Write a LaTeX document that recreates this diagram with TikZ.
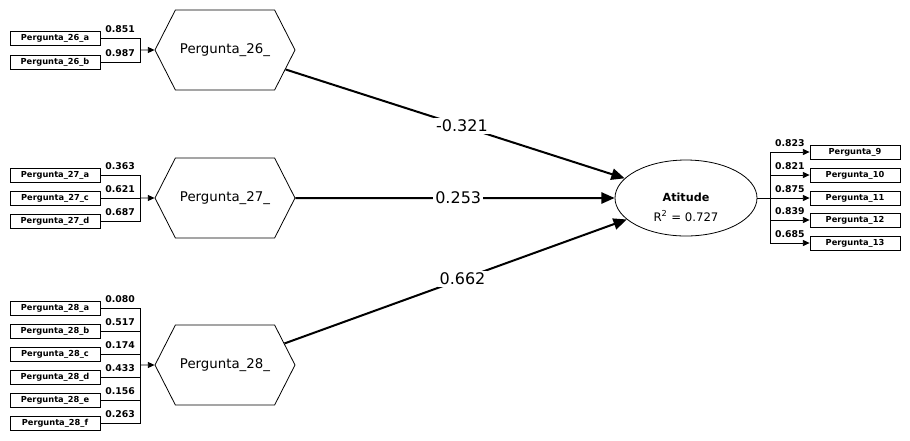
\documentclass[tikz,border=0pt]{standalone}
\usepackage{fontspec}
\setmainfont{DejaVu Sans}
\usetikzlibrary{arrows.meta,shapes.symbols,shapes.geometric}

\begin{document}
\begin{tikzpicture}[x=0.75pt,y=-0.75pt,
  item/.style={draw, line width=0.6pt, minimum width=67.5pt, minimum height=10.5pt, inner sep=0pt, font=\bfseries\fontsize{6.2}{7}\selectfont},
  construct/.style={draw, line width=0.6pt, signal, signal to=east and west, signal pointer angle=126, minimum width=105pt, minimum height=60pt, inner sep=0pt, font=\fontsize{10}{12}\selectfont},
  target/.style={draw, line width=0.6pt, ellipse, minimum width=106.5pt, minimum height=57pt, inner sep=0pt, align=center},
  link/.style={draw, line width=0.6pt},
  load/.style={draw, line width=0.6pt, -{Triangle[length=5pt,width=4.5pt]}},
  weight/.style={above=3pt, inner sep=1pt, font=\bfseries\fontsize{7}{8}\selectfont},
  coef/.style={draw, line width=1.5pt, -{Triangle[length=10pt,width=8.5pt]}},
  coeflabel/.style={fill=white, inner sep=1.5pt, font=\fontsize{12}{14}\selectfont}]
\useasboundingbox (0,0) rectangle (910,440);

% constructs
\node[construct] (p26) at (225,50) {Pergunta\_26\_};
\node[construct] (p27) at (225,198) {Pergunta\_27\_};
\node[construct] (p28) at (225,365) {Pergunta\_28\_};
\node[target] (att) at (686,198) {\rule{0pt}{21pt}{\bfseries\fontsize{8.4}{10}\selectfont Atitude}\\[3pt]{\fontsize{8.8}{10}\selectfont R\textsuperscript{2} = 0.727}};

% Pergunta_26
\node[item] (q26a) at (55,38) {Pergunta\_26\_a};
\node[item] (q26b) at (55,62) {Pergunta\_26\_b};
\coordinate (j26) at (140,50);
\draw[link] (q26a.east) -| (j26) node[weight, pos=.25] {0.851};
\draw[link] (q26b.east) -| (j26) node[weight, pos=.25] {0.987};
\draw[load] (j26) -- (p26);

% Pergunta_27
\node[item] (q27a) at (55,175) {Pergunta\_27\_a};
\node[item] (q27c) at (55,198) {Pergunta\_27\_c};
\node[item] (q27d) at (55,221) {Pergunta\_27\_d};
\coordinate (j27) at (140,198);
\draw[link] (q27a.east) -| (j27) node[weight, pos=.25] {0.363};
\draw[link] (q27c.east) -- (j27) node[weight, pos=.5] {0.621};
\draw[link] (q27d.east) -| (j27) node[weight, pos=.25] {0.687};
\draw[load] (j27) -- (p27);

% Pergunta_28
\node[item] (q28a) at (55,308) {Pergunta\_28\_a};
\node[item] (q28b) at (55,331) {Pergunta\_28\_b};
\node[item] (q28c) at (55,354) {Pergunta\_28\_c};
\node[item] (q28d) at (55,377) {Pergunta\_28\_d};
\node[item] (q28e) at (55,400) {Pergunta\_28\_e};
\node[item] (q28f) at (55,423) {Pergunta\_28\_f};
\coordinate (j28) at (140,365);
\draw[link] (q28a.east) -| (j28) node[weight, pos=.25] {0.080};
\draw[link] (q28b.east) -| (j28) node[weight, pos=.25] {0.517};
\draw[link] (q28c.east) -| (j28) node[weight, pos=.25] {0.174};
\draw[link] (q28d.east) -| (j28) node[weight, pos=.25] {0.433};
\draw[link] (q28e.east) -| (j28) node[weight, pos=.25] {0.156};
\draw[link] (q28f.east) -| (j28) node[weight, pos=.25] {0.263};
\draw[load] (j28) -- (p28);

% Atitude
\node[item] (q9) at (855,152) {Pergunta\_9};
\node[item] (q10) at (855,175) {Pergunta\_10};
\node[item] (q11) at (855,198) {Pergunta\_11};
\node[item] (q12) at (855,220) {Pergunta\_12};
\node[item] (q13) at (855,243) {Pergunta\_13};
\coordinate (jatt) at (770,198);
\draw[link] (att) -- (jatt);
\draw[load] (jatt) |- (q9.west) node[weight, pos=.75] {0.823};
\draw[load] (jatt) |- (q10.west) node[weight, pos=.75] {0.821};
\draw[load] (jatt) -- (q11.west) node[weight, pos=.5] {0.875};
\draw[load] (jatt) |- (q12.west) node[weight, pos=.75] {0.839};
\draw[load] (jatt) |- (q13.west) node[weight, pos=.75] {0.685};

% paths
\draw[coef] (p26) -- (att) node[coeflabel, pos=.52] {-0.321};
\draw[coef] (p27) -- (att) node[coeflabel, pos=.51] {0.253};
\draw[coef] (p28) -- (att) node[coeflabel, pos=.52] {0.662};

\end{tikzpicture}
\end{document}
